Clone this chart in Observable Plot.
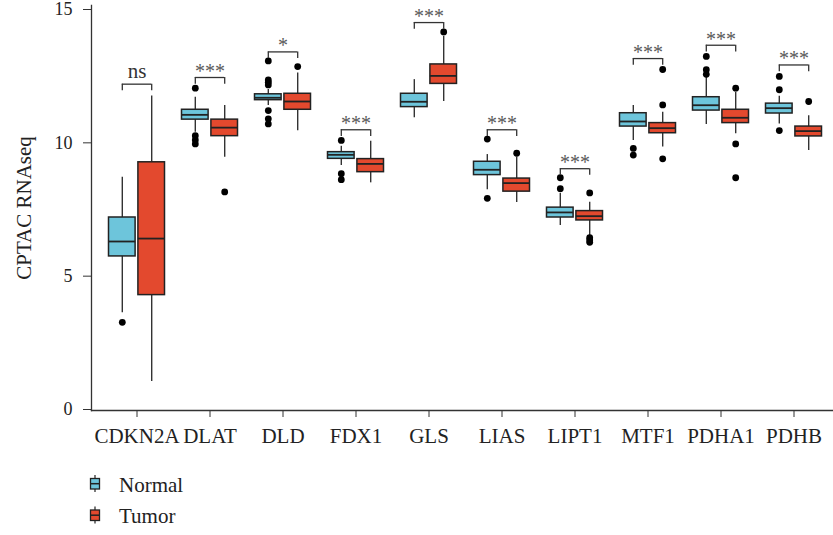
<!DOCTYPE html>
<html><head><meta charset="utf-8">
<script src="https://cdn.jsdelivr.net/npm/d3@7"></script>
<script src="https://cdn.jsdelivr.net/npm/@observablehq/plot@0.6"></script>
<style>body{margin:0;background:#fff} svg{display:block} svg, svg text{font-family:"Liberation Serif","Times New Roman",Tinos,"DejaVu Serif",serif !important}</style>
</head><body><div id="chart"></div><div id="legend"></div>
<script>
const genes = ["CDKN2A","DLAT","DLD","FDX1","GLS","LIAS","LIPT1","MTF1","PDHA1","PDHB"];
const groupNames = ["Normal","Tumor"];
const groupColors = ["#6DC5DB","#E3492E"];

const normalLow    = [3.63, 10.40, 11.40, 9.15, 10.94, 8.24, 6.90, 10.09, 10.69, 10.71];
const normalQ1     = [5.74, 10.87, 11.60, 9.40, 11.34, 8.79, 7.20, 10.61, 11.21, 11.10];
const normalMedian = [6.30, 11.05, 11.69, 9.55, 11.54, 8.99, 7.39, 10.80, 11.41, 11.30];
const normalQ3     = [7.20, 11.24, 11.82, 9.65, 11.84, 9.29, 7.57, 11.11, 11.71, 11.47];
const normalHigh   = [8.71, 11.71, 12.00, 9.87, 12.37, 9.56, 8.11, 11.40, 12.46, 11.75];
const normalOutliers = [[3.27],[12.05,10.27,10.11,9.96],[13.07,12.36,12.27,12.17,11.21,10.90,10.71],[10.09,8.84,8.62],[],[10.14,7.92],[8.28,8.69],[9.79,9.54],[12.57,12.74,13.24],[11.99,12.49,10.46]];

const tumorLow    = [1.05, 9.46, 10.45, 8.50, 11.55, 7.76, 6.52, 9.84, 10.34, 9.71];
const tumorQ1     = [4.29, 10.25, 11.24, 8.90, 12.21, 8.17, 7.09, 10.36, 10.74, 10.24];
const tumorMedian = [6.41, 10.57, 11.55, 9.21, 12.51, 8.49, 7.25, 10.55, 10.94, 10.44];
const tumorQ3     = [9.27, 10.87, 11.84, 9.39, 12.94, 8.66, 7.44, 10.74, 11.24, 10.61];
const tumorHigh   = [11.76, 11.40, 12.62, 10.06, 14.00, 9.46, 7.77, 11.15, 11.90, 11.02];
const tumorOutliers = [[],[8.16],[12.86],[],[14.16],[9.61],[8.12,6.44,6.36,6.27],[11.42,12.75,9.40],[12.05,9.96,8.69],[11.55]];

const sigLabels = ["ns","***","*","***","***","***","***","***","***","***"];
const sigY = [12.20, 12.45, 13.41, 10.49, 14.51, 10.49, 9.03, 13.16, 13.66, 12.92];
const yTicks = [0, 5, 10, 15];

const FONT = '"Liberation Serif","Times New Roman",Tinos,"DejaVu Serif",serif';
const half = 14.7, boxInset = 23.2, bracketInset = 21.8, leg = 0.25;

function rows(low, q1, med, q3, high) {
  return genes.map((g, i) => ({gene: g, low: low[i], q1: q1[i], median: med[i], q3: q3[i], high: high[i]}));
}
function outl(list) {
  return genes.flatMap((g, i) => list[i].map(v => ({gene: g, value: v})));
}
const groups = [
  {dx: -half, color: groupColors[0], rows: rows(normalLow, normalQ1, normalMedian, normalQ3, normalHigh), out: outl(normalOutliers)},
  {dx: half, color: groupColors[1], rows: rows(tumorLow, tumorQ1, tumorMedian, tumorQ3, tumorHigh), out: outl(tumorOutliers)}
];
const ann = genes.map((g, i) => ({gene: g, label: sigLabels[i], y: sigY[i]}));

const marks = [];
for (const g of groups) {
  marks.push(Plot.ruleX(g.rows, {x: "gene", y1: "low", y2: "high", dx: g.dx, stroke: "#333", strokeWidth: 1.4}));
  marks.push(Plot.barY(g.rows, {x: "gene", y1: "q1", y2: "q3", dx: g.dx, fill: g.color, stroke: "#222", strokeWidth: 1.5, insetLeft: boxInset, insetRight: boxInset}));
  marks.push(Plot.tickY(g.rows, {x: "gene", y: "median", dx: g.dx, stroke: "#222", strokeWidth: 1.8, insetLeft: boxInset, insetRight: boxInset}));
  marks.push(Plot.dot(g.out, {x: "gene", y: "value", dx: g.dx, r: 3.4, fill: "#000", stroke: "none"}));
}
marks.push(Plot.tickY(ann, {x: "gene", y: "y", insetLeft: bracketInset, insetRight: bracketInset, stroke: "#333", strokeWidth: 1.3}));
marks.push(Plot.ruleX(ann, {x: "gene", y1: d => d.y - leg, y2: "y", dx: -half, stroke: "#333", strokeWidth: 1.3}));
marks.push(Plot.ruleX(ann, {x: "gene", y1: d => d.y - leg, y2: "y", dx: half, stroke: "#333", strokeWidth: 1.3}));
marks.push(Plot.text(ann.filter(d => d.label === "ns"), {x: "gene", y: "y", text: "label", lineAnchor: "middle", dy: -13.3, fontSize: 21, fill: "#333", fontFamily: FONT}));
marks.push(Plot.text(ann.filter(d => d.label !== "ns"), {x: "gene", y: "y", text: "label", lineAnchor: "middle", dy: -5.9, fontSize: 20, fill: "#5a5a5a", fontFamily: FONT}));

marks.push(Plot.axisX({tickSize: 7, tickPadding: 11, fontSize: 21, label: null, stroke: "#333", fontFamily: FONT}));
marks.push(Plot.axisY({ticks: yTicks, tickSize: 8, tickPadding: 11, fontSize: 18, label: null, stroke: "#333", fontFamily: FONT}));
marks.push(Plot.axisY({ticks: [], label: "CPTAC RNAseq", labelAnchor: "center", labelArrow: "none", labelOffset: 75, fontSize: 21, fontFamily: FONT}));
marks.push(Plot.frame({anchor: "left", stroke: "#333", strokeWidth: 1.3}));
marks.push(Plot.frame({anchor: "bottom", stroke: "#333", strokeWidth: 1.3}));

const chart = Plot.plot({
  width: 833, height: 455,
  marginLeft: 91, marginRight: 0, marginTop: 5, marginBottom: 45,
  style: {fontFamily: FONT, color: "#222", background: "#fff"},
  x: {type: "band", domain: genes, range: [100, 830], padding: 0},
  y: {domain: [0, 15], range: [409, 9]},
  marks
});
document.getElementById("chart").appendChild(chart);

// legend
const lsvg = d3.select("#legend").append("svg").attr("width", 833).attr("height", 80);
groupNames.forEach((name, i) => {
  const g = lsvg.append("g").attr("transform", `translate(0,${i * 31.5})`);
  g.append("line").attr("x1", 95).attr("x2", 95).attr("y1", 20).attr("y2", 37).attr("stroke", "#333").attr("stroke-width", 1.3);
  g.append("rect").attr("x", 90.5).attr("y", 23.5).attr("width", 9).attr("height", 10.5).attr("fill", groupColors[i]).attr("stroke", "#222").attr("stroke-width", 1.3);
  g.append("line").attr("x1", 90.5).attr("x2", 99.5).attr("y1", 28.7).attr("y2", 28.7).attr("stroke", "#222").attr("stroke-width", 1.5);
  g.append("text").attr("x", 119).attr("y", 36.5).attr("font-size", 21).attr("fill", "#222").style("font-family", FONT).text(name);
});
</script></body></html>
